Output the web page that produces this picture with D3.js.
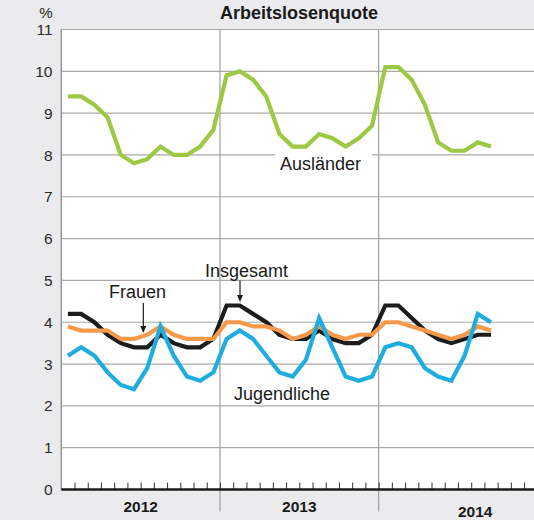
<!DOCTYPE html>
<html>
<head>
<meta charset="utf-8">
<script src="https://cdn.jsdelivr.net/npm/d3@7"></script>
<style>
  html, body { margin: 0; padding: 0; background: #ebebed; }
  svg { display: block; font-family: "Liberation Sans", Arial, Helvetica, sans-serif; }
</style>
</head>
<body>
<svg id="chart" width="534" height="520"></svg>
<script>
// Monthly unemployment rates, January 2012 to September 2014 (percent)
const years = ["2012", "2013", "2014"];
const yTicks = [0, 1, 2, 3, 4, 5, 6, 7, 8, 9, 10, 11];

const auslaender = [9.4, 9.4, 9.2, 8.9, 8.0, 7.8, 7.9, 8.2, 8.0, 8.0, 8.2, 8.6,
                    9.9, 10.0, 9.8, 9.4, 8.5, 8.2, 8.2, 8.5, 8.4, 8.2, 8.4, 8.7,
                    10.1, 10.1, 9.8, 9.2, 8.3, 8.1, 8.1, 8.3, 8.2];
const insgesamt = [4.2, 4.2, 4.0, 3.7, 3.5, 3.4, 3.4, 3.7, 3.5, 3.4, 3.4, 3.6,
                   4.4, 4.4, 4.2, 4.0, 3.7, 3.6, 3.6, 3.8, 3.6, 3.5, 3.5, 3.7,
                   4.4, 4.4, 4.1, 3.8, 3.6, 3.5, 3.6, 3.7, 3.7];
const frauen = [3.9, 3.8, 3.8, 3.8, 3.6, 3.6, 3.7, 3.9, 3.7, 3.6, 3.6, 3.6,
                4.0, 4.0, 3.9, 3.9, 3.8, 3.6, 3.7, 3.9, 3.7, 3.6, 3.7, 3.7,
                4.0, 4.0, 3.9, 3.8, 3.7, 3.6, 3.7, 3.9, 3.8];
const jugendliche = [3.2, 3.4, 3.2, 2.8, 2.5, 2.4, 2.9, 3.9, 3.2, 2.7, 2.6, 2.8,
                     3.6, 3.8, 3.6, 3.2, 2.8, 2.7, 3.1, 4.1, 3.4, 2.7, 2.6, 2.7,
                     3.4, 3.5, 3.4, 2.9, 2.7, 2.6, 3.2, 4.2, 4.0];

const svg = d3.select("#chart");
const W = 534, H = 520;

// month boundaries: 0 = start of 2012, 36 = start of 2015
const x = d3.scaleLinear().domain([0, 36]).range([61.3, 537.3]);
const y = d3.scaleLinear().domain([0, 11]).range([489.5, 29.5]);

// white plotting area
svg.append("rect")
  .attr("x", x(0)).attr("y", y(11))
  .attr("width", W - x(0)).attr("height", y(0) - y(11))
  .attr("fill", "#ffffff");

// horizontal grid lines
svg.append("g")
  .selectAll("line")
  .data(yTicks.filter(d => d > 0))
  .join("line")
  .attr("x1", x(0)).attr("x2", W)
  .attr("y1", d => y(d)).attr("y2", d => y(d))
  .attr("stroke", "#a9a9a9").attr("stroke-width", 1.2);

// year separators, running down into the label band
svg.append("g")
  .selectAll("line")
  .data([12, 24])
  .join("line")
  .attr("x1", d => x(d)).attr("x2", d => x(d))
  .attr("y1", y(11)).attr("y2", 511.5)
  .attr("stroke", "#a0a0a0").attr("stroke-width", 1.2);

// left frame
svg.append("line")
  .attr("x1", x(0)).attr("x2", x(0))
  .attr("y1", y(11)).attr("y2", y(0))
  .attr("stroke", "#9a9a9a").attr("stroke-width", 1.6);

// y axis labels
svg.append("g")
  .selectAll("text")
  .data(yTicks)
  .join("text")
  .attr("x", 52.5).attr("y", d => y(d))
  .attr("dy", "0.36em")
  .attr("text-anchor", "end")
  .attr("font-size", 15.5)
  .attr("fill", "#2a2a2a")
  .text(d => d);

svg.append("text")
  .attr("x", 52.5).attr("y", 18)
  .attr("text-anchor", "end")
  .attr("font-size", 15)
  .attr("fill", "#2a2a2a")
  .text("%");

// title
svg.append("text")
  .attr("x", 299).attr("y", 18.5)
  .attr("text-anchor", "middle")
  .attr("font-size", 18)
  .attr("font-weight", "bold")
  .attr("fill", "#1a1a1a")
  .text("Arbeitslosenquote");

// bottom axis with monthly ticks
const xAxis = d3.axisTop(x)
  .tickValues(d3.range(1, 36))
  .tickSize(7)
  .tickFormat("");
const gx = svg.append("g")
  .attr("transform", `translate(0,${y(0)})`)
  .call(xAxis);
gx.select(".domain").remove();
gx.selectAll(".tick line").attr("stroke", "#333").attr("stroke-width", 1);

svg.append("line")
  .attr("x1", x(0)).attr("x2", W)
  .attr("y1", y(0)).attr("y2", y(0))
  .attr("stroke", "#1a1a1a").attr("stroke-width", 2.3);

// year labels
const yearPos = [{ m: 6, by: 511.5 }, { m: 18, by: 511.5 }, { m: 31.3, by: 517 }];
svg.append("g")
  .selectAll("text")
  .data(years)
  .join("text")
  .attr("x", (d, i) => x(yearPos[i].m))
  .attr("y", (d, i) => yearPos[i].by)
  .attr("text-anchor", "middle")
  .attr("font-size", 15.5)
  .attr("font-weight", "bold")
  .attr("fill", "#1a1a1a")
  .text(d => d);

// series lines
const line = d3.line()
  .x((d, i) => x(i + 0.5))
  .y(d => y(d));

// white backing behind the foreign-nationals label
svg.append("rect")
  .attr("x", 275).attr("y", 148).attr("width", 97).attr("height", 27)
  .attr("fill", "#ffffff");

const series = [
  { values: auslaender, color: "#9dc843" },
  { values: insgesamt, color: "#1c1c1c" },
  { values: frauen, color: "#f7994a" },
  { values: jugendliche, color: "#1fade0" }
];

svg.append("g")
  .selectAll("path")
  .data(series)
  .join("path")
  .attr("d", d => line(d.values))
  .attr("fill", "none")
  .attr("stroke", d => d.color)
  .attr("stroke-width", 4.2)
  .attr("stroke-linejoin", "miter")
  .attr("stroke-miterlimit", 3)
  .attr("stroke-linecap", "butt");

// annotations
const labels = [
  { text: "Ausländer", x: 280, y: 170 },
  { text: "Insgesamt", x: 205, y: 277 },
  { text: "Frauen", x: 109, y: 298 },
  { text: "Jugendliche", x: 234, y: 399.5 }
];
svg.append("g")
  .selectAll("text")
  .data(labels)
  .join("text")
  .attr("x", d => d.x).attr("y", d => d.y)
  .attr("font-size", 18)
  .attr("fill", "#1a1a1a")
  .text(d => d.text);

// pointer arrows for the two overlapping lines
const arrows = [
  { x: 240, y1: 280.5, y2: 302 },
  { x: 143.3, y1: 303, y2: 333 }
];
const ag = svg.append("g").attr("fill", "#1a1a1a").attr("stroke", "#1a1a1a");
arrows.forEach(a => {
  ag.append("line")
    .attr("x1", a.x).attr("x2", a.x)
    .attr("y1", a.y1).attr("y2", a.y2 - 5)
    .attr("stroke-width", 1.2);
  ag.append("path")
    .attr("stroke", "none")
    .attr("d", `M${a.x - 3},${a.y2 - 7} L${a.x + 3},${a.y2 - 7} L${a.x},${a.y2} Z`);
});
</script>
</body>
</html>
